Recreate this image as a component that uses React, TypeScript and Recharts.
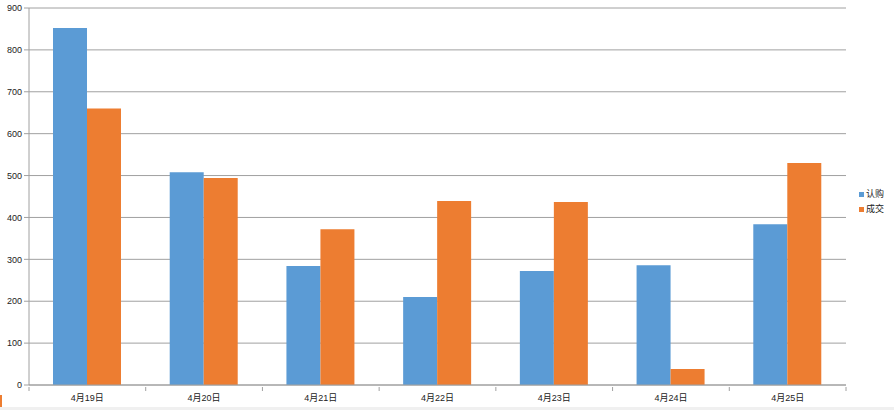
import React from "react"
import { BarChart, Bar, XAxis, YAxis, CartesianGrid, Legend } from "recharts"

// categories + series
const dates = ["4月19日", "4月20日", "4月21日", "4月22日", "4月23日", "4月24日", "4月25日"]
const subscribe = [852, 508, 284, 210, 272, 286, 384]
const deal = [660, 494, 372, 439, 437, 38, 530]
const yTicks = [0, 100, 200, 300, 400, 500, 600, 700, 800, 900]

const BLUE = "#5B9BD5"
const ORANGE = "#ED7D31"
const AXIS = "#a0a0a0"
const FONT = "'Liberation Sans', 'Noto Sans CJK SC', sans-serif"

const W = 894
const H = 410
const margin = { top: 8, right: 12, left: 0, bottom: 0 }
const LEGEND_W = 36
const plotW = W - 29 - margin.right - LEGEND_W

const data = dates.map((d, i) => ({ date: d, 认购: subscribe[i], 成交: deal[i] }))

function DateTick(props: any) {
  const { x, y, payload, index } = props
  const band = plotW / dates.length
  return (
    <g>
      <line x1={x - band / 2} x2={x - band / 2} y1={y - 6} y2={y - 2} stroke={AXIS} />
      {index === dates.length - 1 && (
        <line x1={x + band / 2} x2={x + band / 2} y1={y - 6} y2={y - 2} stroke={AXIS} />
      )}
      <text x={x} y={y + 8} textAnchor="middle" fontSize={9} fill="#222" fontFamily={FONT}>
        {payload.value}
      </text>
    </g>
  )
}

function LegendBox() {
  const items = [
    { label: "认购", color: BLUE },
    { label: "成交", color: ORANGE },
  ]
  return (
    <div style={{ fontFamily: FONT, fontSize: 9, color: "#222" }}>
      {items.map((it) => (
        <div key={it.label} style={{ display: "flex", alignItems: "center", height: 15 }}>
          <span style={{ width: 5, height: 5, background: it.color, marginRight: 2, marginTop: 2 }} />
          <span>{it.label}</span>
        </div>
      ))}
    </div>
  )
}

export default function App() {
  return (
    <div style={{ position: "absolute", left: 0, top: 0, width: W, height: H, background: "#fff" }}>
      <BarChart width={W} height={H} data={data} margin={margin} barSize={34} barGap={0}>
        <CartesianGrid horizontal vertical={false} stroke={AXIS} />
        <XAxis
          dataKey="date"
          height={25}
          axisLine={{ stroke: AXIS }}
          tickLine={false}
          tick={<DateTick />}
          interval={0}
        />
        <YAxis
          width={29}
          domain={[0, 900]}
          ticks={yTicks}
          interval={0}
          axisLine={{ stroke: AXIS }}
          tickLine={{ stroke: AXIS }}
          tickSize={5}
          tick={{ fontSize: 9, fill: "#222", fontFamily: FONT }}
        />
        <Legend
          layout="vertical"
          align="right"
          verticalAlign="middle"
          content={<LegendBox />}
          wrapperStyle={{ width: LEGEND_W, left: 859, right: "auto", top: 186 }}
        />
        <Bar dataKey="认购" fill={BLUE} isAnimationActive={false} />
        <Bar dataKey="成交" fill={ORANGE} isAnimationActive={false} />
      </BarChart>
      <div style={{ position: "absolute", left: 0, top: 395, width: 2, height: 14, background: ORANGE }} />
      <div style={{ position: "absolute", left: 0, top: 407, width: W, height: 3, background: "#f0f0f0" }} />
    </div>
  )
}
